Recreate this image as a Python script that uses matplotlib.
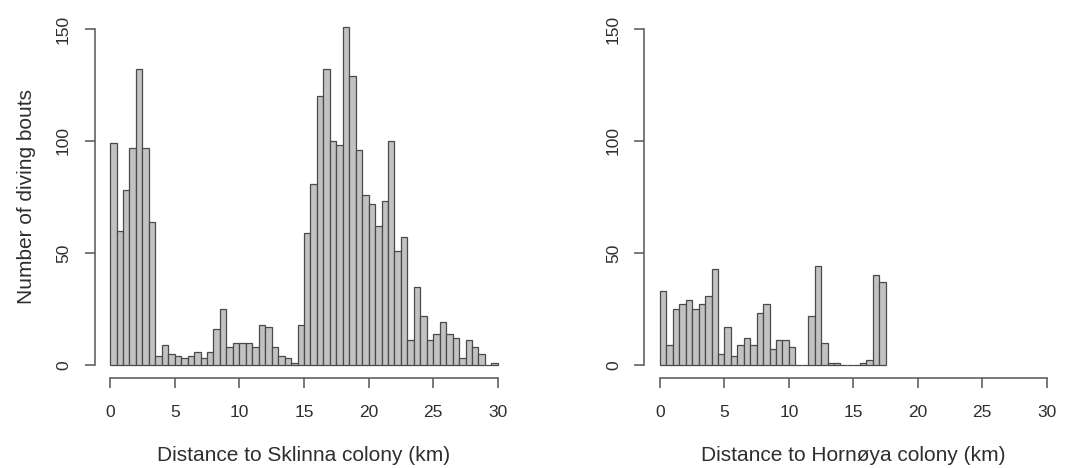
import numpy as np
import matplotlib
matplotlib.use("Agg")
import matplotlib.pyplot as plt

# counts per 0.5 km bin
sklinna_counts = [99, 60, 78, 97, 132, 97, 64, 4, 9, 5,
                  4, 3, 4, 6, 3, 6, 16, 25, 8, 10,
                  10, 10, 8, 18, 17, 8, 4, 3, 1, 18,
                  59, 81, 120, 132, 100, 98, 151, 129, 96, 76,
                  72, 62, 73, 100, 51, 57, 11, 35, 22, 11,
                  14, 19, 14, 12, 3, 11, 8, 5, 0, 1]
hornoya_counts = [33, 9, 25, 27, 29, 25, 27, 31, 43, 5,
                  17, 4, 9, 12, 9, 23, 27, 7, 11, 11,
                  8, 0, 0, 22, 44, 10, 1, 1, 0, 0,
                  0, 1, 2, 40, 37]
bin_width = 0.5
x_ticks = [0, 5, 10, 15, 20, 25, 30]
y_ticks = [0, 50, 100, 150]
x_labels = ["Distance to Sklinna colony (km)", "Distance to Hornøya colony (km)"]
y_label = "Number of diving bouts"

ink = "#2e2e2e"
font = ["Liberation Sans", "DejaVu Sans"]

fig = plt.figure(figsize=(10.72, 4.68), dpi=100)
axes = [fig.add_axes([0.0882, 0.1915, 0.3907, 0.7752]),
        fig.add_axes([0.6012, 0.1915, 0.3896, 0.7752])]

for ax, counts, xl in zip(axes, [sklinna_counts, hornoya_counts], x_labels):
    starts = np.arange(len(counts)) * bin_width
    ax.bar(starts, counts, width=bin_width, align="edge",
           color="#c2c2c2", edgecolor="#4a4a4a", linewidth=0.9)
    ax.set_xlim(-1.2, 31.2)
    ax.set_ylim(-6, 156)
    for s in ["top", "right"]:
        ax.spines[s].set_visible(False)
    ax.spines["left"].set_bounds(0, 150)
    ax.spines["bottom"].set_bounds(0, 30)
    for s in ["left", "bottom"]:
        ax.spines[s].set_color("#555555")
        ax.spines[s].set_linewidth(1.1)
    ax.set_xticks(x_ticks)
    ax.set_yticks(y_ticks)
    ax.tick_params(colors="#555555", length=7, width=1.1)
    ax.tick_params(axis="x", labelcolor=ink, pad=12)
    ax.tick_params(axis="y", labelcolor=ink, pad=10)
    ax.set_xticklabels([str(t) for t in x_ticks], family=font, fontsize=12.5)
    ax.set_yticklabels([str(t) for t in y_ticks], family=font, fontsize=12.5,
                       rotation=90, va="center")
    ax.set_xlabel(xl, family=font, fontsize=15, color=ink, labelpad=19)

axes[0].set_ylabel(y_label, family=font, fontsize=15, color=ink, labelpad=14)

fig.savefig("out.png", dpi=100)
